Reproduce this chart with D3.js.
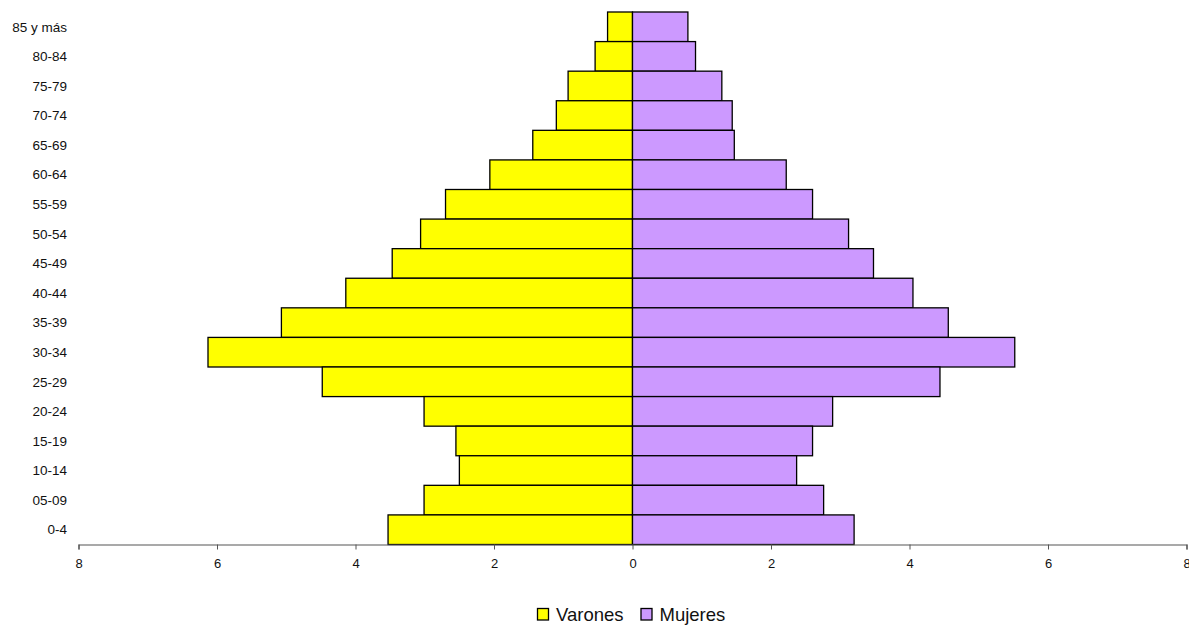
<!DOCTYPE html>
<html>
<head>
<meta charset="utf-8">
<script src="https://cdn.jsdelivr.net/npm/d3@7"></script>
<style>
  body { margin: 0; background: #fff; }
  text { font-family: "Liberation Sans", Arial, sans-serif; fill: #111; }
</style>
</head>
<body>
<svg id="chart" width="1189" height="625"></svg>
<script>
// age groups, top to bottom
const ageGroups = ["85 y más", "80-84", "75-79", "70-74", "65-69", "60-64", "55-59", "50-54",
  "45-49", "40-44", "35-39", "30-34", "25-29", "20-24", "15-19", "10-14", "05-09", "0-4"];
const varones = [0.36, 0.54, 0.93, 1.10, 1.44, 2.06, 2.70, 3.06, 3.47, 4.14, 5.07, 6.13, 4.48, 3.01, 2.55, 2.50, 3.01, 3.53];
const mujeres = [0.80, 0.91, 1.29, 1.44, 1.47, 2.22, 2.60, 3.12, 3.48, 4.05, 4.56, 5.52, 4.44, 2.89, 2.60, 2.37, 2.76, 3.20];
const xTicks = [-8, -6, -4, -2, 0, 2, 4, 6, 8];
const seriesNames = ["Varones", "Mujeres"];
const colors = ["#ffff00", "#cc99ff"];

const svg = d3.select("#chart");

const x = d3.scaleLinear().domain([-8, 8]).range([78.5, 1186.5]);
const y = d3.scaleBand().domain(ageGroups).range([12, 544.5]).padding(0);

// bars
const g = svg.append("g");
g.selectAll("rect.v")
  .data(ageGroups)
  .enter().append("rect")
  .attr("class", "v")
  .attr("x", (d, i) => x(-varones[i]))
  .attr("y", d => y(d))
  .attr("width", (d, i) => x(0) - x(-varones[i]))
  .attr("height", y.bandwidth())
  .attr("fill", colors[0])
  .attr("stroke", "#000")
  .attr("stroke-width", 1.3);

g.selectAll("rect.m")
  .data(ageGroups)
  .enter().append("rect")
  .attr("class", "m")
  .attr("x", x(0))
  .attr("y", d => y(d))
  .attr("width", (d, i) => x(mujeres[i]) - x(0))
  .attr("height", y.bandwidth())
  .attr("fill", colors[1])
  .attr("stroke", "#000")
  .attr("stroke-width", 1.3);

// category labels
svg.append("g").selectAll("text")
  .data(ageGroups)
  .enter().append("text")
  .attr("x", 67)
  .attr("y", d => y(d) + y.bandwidth() / 2)
  .attr("dy", "0.35em")
  .attr("text-anchor", "end")
  .attr("font-size", 13.5)
  .text(d => d);

// x axis
const xAxis = d3.axisBottom(x)
  .tickValues(xTicks)
  .tickFormat(d => Math.abs(d))
  .tickSize(5)
  .tickPadding(9);

const ax = svg.append("g")
  .attr("transform", "translate(0,544.5)")
  .call(xAxis);
ax.select(".domain").attr("stroke", "#555").attr("stroke-width", 1.2);
ax.selectAll(".tick line").attr("stroke", "#555");
ax.selectAll(".tick text")
  .attr("font-size", 13)
  .attr("font-family", "Liberation Sans, Arial, sans-serif")
  .attr("fill", "#111");

// legend
const legend = svg.append("g").attr("transform", "translate(537,608)");
const items = [{ name: seriesNames[0], color: colors[0], dx: 0 }, { name: seriesNames[1], color: colors[1], dx: 103.5 }];
items.forEach(it => {
  const lg = legend.append("g").attr("transform", `translate(${it.dx},0)`);
  lg.append("rect")
    .attr("x", 0.5).attr("y", 0.5)
    .attr("width", 11).attr("height", 11.5)
    .attr("fill", it.color)
    .attr("stroke", "#000")
    .attr("stroke-width", 1.3);
  lg.append("text")
    .attr("x", 19)
    .attr("y", 12.5)
    .attr("font-size", 18.5)
    .text(it.name);
});
</script>
</body>
</html>
